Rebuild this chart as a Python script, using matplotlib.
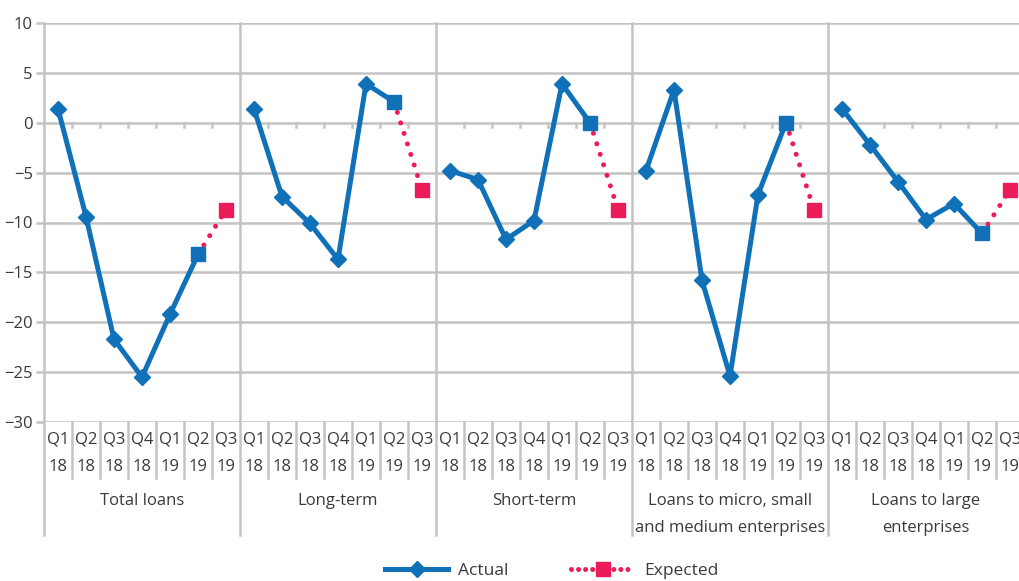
import numpy as np
import matplotlib.pyplot as plt
from matplotlib.lines import Line2D
import matplotlib.transforms as mtransforms

plt.rcParams['font.family'] = ['Open Sans', 'DejaVu Sans']

# ---- data ----
groups = ["Total loans", "Long-term", "Short-term",
          "Loans to micro, small\nand medium enterprises", "Loans to large\nenterprises"]
quarters = ["Q1", "Q2", "Q3", "Q4", "Q1", "Q2", "Q3"]
years = ["18", "18", "18", "18", "19", "19", "19"]

total_actual = [1.4, -9.4, -21.7, -25.5, -19.2, -13.2]
long_actual = [1.4, -7.4, -10.1, -13.7, 3.9, 2.1]
short_actual = [-4.8, -5.7, -11.7, -9.8, 3.9, 0.0]
msme_actual = [-4.8, 3.3, -15.8, -25.4, -7.2, 0.0]
large_actual = [1.4, -2.2, -5.9, -9.7, -8.1, -11.1]
actual = [total_actual, long_actual, short_actual, msme_actual, large_actual]

expected = [-8.7, -6.7, -8.7, -8.7, -6.7]   # Q3 19

blue = '#1070b8'
pink = '#ec1b5a'
grid_c = '#c3c3c3'
text_c = '#3a3a3a'

W, H = 1020, 581
fig = plt.figure(figsize=(W / 100, H / 100), dpi=100)
left, right, top, bottom = 44, 1024, 23, 422
ax = fig.add_axes([left / W, 1 - bottom / H, (right - left) / W, (bottom - top) / H])
ax.set_xlim(0, 35)
ax.set_ylim(-30, 10)
for s in ax.spines.values():
    s.set_visible(False)
ax.set_xticks([])
ax.set_yticks(np.arange(-30, 11, 5))
ax.tick_params(axis='y', length=6, width=1.8, color=grid_c, labelsize=12,
               labelcolor=text_c, pad=2)

# horizontal gridlines
for yv in np.arange(-30, 11, 5):
    ax.axhline(yv, color=grid_c, lw=1.8, zorder=1)

trans = mtransforms.blended_transform_factory(ax.transData, ax.transAxes)
ph = bottom - top

def ay(ypx):
    return (bottom - ypx) / ph

# group separators (incl. left axis)
for g in range(6):
    ax.plot([7 * g, 7 * g], [1, ay(535)], transform=trans, color=grid_c,
            lw=1.8, clip_on=False, zorder=1)
# category separators in label area and small ticks at zero
for i in range(35):
    if i % 7 == 0:
        continue
    ax.plot([i, i], [0, ay(478)], transform=trans, color=grid_c,
            lw=1.8, clip_on=False, zorder=1)
    ax.plot([i, i], [0, -0.45], color=grid_c, lw=1.8, zorder=1)

# category labels
for g in range(5):
    for k in range(7):
        xc = 7 * g + k + 0.5
        ax.text(xc, ay(440), quarters[k], transform=trans, ha='center', va='center',
                fontsize=12, color=text_c)
        ax.text(xc, ay(467), years[k], transform=trans, ha='center', va='center',
                fontsize=12, color=text_c)
    for j, line in enumerate(groups[g].split("\n")):
        ax.text(7 * g + 3.5, ay(501 + 27 * j), line, transform=trans, ha='center',
                va='center', fontsize=12, color=text_c)

# series
for g in range(5):
    xs = np.arange(7) + 7 * g + 0.5
    vals = actual[g]
    ax.plot(xs[5:7], [vals[5], expected[g]], color=pink, lw=3.6,
            linestyle=(0, (0.01, 2.2)), dash_capstyle='round', zorder=3)
    ax.plot(xs[6], expected[g], marker='s', ms=9.5, color=pink, ls='none', zorder=4)
    ax.plot(xs[:6], vals, color=blue, lw=3.6, zorder=5)
    ax.plot(xs[:5], vals[:5], marker='D', ms=8.5, color=blue, ls='none', zorder=6)
    ax.plot(xs[5], vals[5], marker='s', ms=9.5, color=blue, ls='none', zorder=6)

handles = [
    Line2D([0], [0], color=blue, lw=3.6, marker='D', ms=8.5),
    Line2D([0], [0], color=pink, lw=3.6, linestyle=(0, (0.01, 1.4)),
           dash_capstyle='round', marker='s', ms=9.5),
]
fig.legend(handles, ["Actual", "Expected"], loc='center', bbox_to_anchor=(552 / W, 1 - 571 / H),
           ncol=2, frameon=False, fontsize=12.5, handlelength=3.6, handletextpad=0.6,
           columnspacing=3.6, labelcolor=text_c)

fig.savefig('out.png', dpi=100)
